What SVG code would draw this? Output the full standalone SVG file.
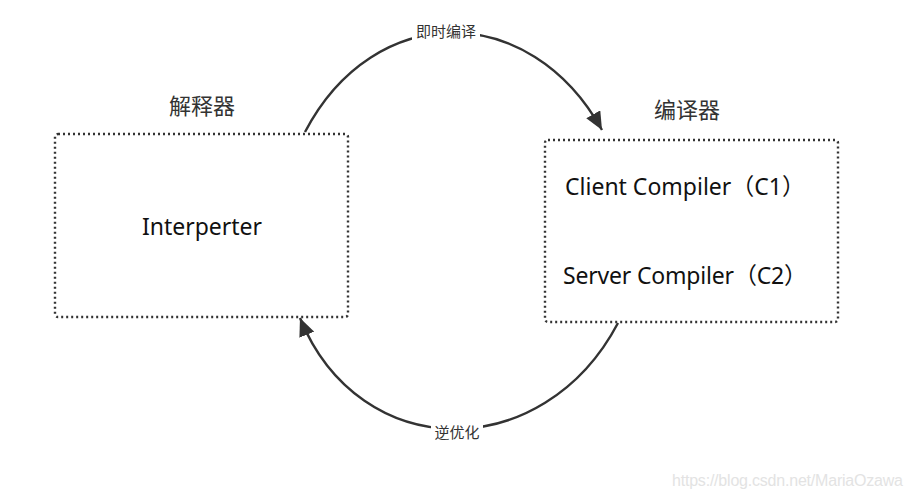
<svg xmlns="http://www.w3.org/2000/svg" width="915" height="495" viewBox="0 0 915 495">
  <style>
    .box { fill: #ffffff; stroke: #333333; stroke-width: 2.4; stroke-dasharray: 2 3; }
    .edge { fill: none; stroke: #333333; stroke-width: 2.4; }
    .t { font-family: "Noto Sans", "Open Sans", "Noto Sans CJK SC", sans-serif; fill: #111111; }
    .cap { font-family: "Noto Sans CJK SC", sans-serif; fill: #333333; font-size: 22px; text-anchor: middle; }
    .lbl { font-family: "Noto Sans CJK SC", sans-serif; fill: #333333; font-size: 15px; text-anchor: middle; }
    .wm { font-family: "Liberation Sans", Arial, sans-serif; fill: #e3e3e3; font-size: 16px; }
  </style>
  <defs>
    <marker id="arrow" markerUnits="userSpaceOnUse" markerWidth="20" markerHeight="16" refX="18" refY="8" orient="auto">
      <path d="M0,0 L18,8 L0,16 Z" fill="#333333"/>
    </marker>
  </defs>
  <rect width="915" height="495" fill="#ffffff"/>

  <g id="connectors">
    <path class="edge" d="M305,132 C374,0 530,0 602,130" marker-end="url(#arrow)"/>
    <path class="edge" d="M618,323 C543,465 360,465 300,318" marker-end="url(#arrow)"/>
    <g id="label-jit">
      <rect x="412" y="22" width="68" height="20" fill="#ffffff"/>
      <text class="lbl" x="446" y="37">即时编译</text>
    </g>
    <g id="label-deopt">
      <rect x="431" y="422" width="52" height="20" fill="#ffffff"/>
      <text class="lbl" x="457" y="438">逆优化</text>
    </g>
  </g>

  <g id="interpreter">
    <text class="cap" x="202" y="114">解释器</text>
    <rect class="box" x="55" y="134" width="293" height="183" rx="3"/>
    <text class="t" x="202" y="235" font-size="23" text-anchor="middle">Interperter</text>
  </g>

  <g id="compiler">
    <text class="cap" x="687" y="118">编译器</text>
    <rect class="box" x="545" y="140" width="293" height="182" rx="3"/>
    <text class="t" x="565" y="195" font-size="23" textLength="240">Client Compiler（C1）</text>
    <text class="t" x="563" y="284" font-size="23" textLength="244">Server Compiler（C2）</text>
  </g>

  <text class="wm" x="672" y="486" textLength="231">https://blog.csdn.net/MariaOzawa</text>
</svg>
